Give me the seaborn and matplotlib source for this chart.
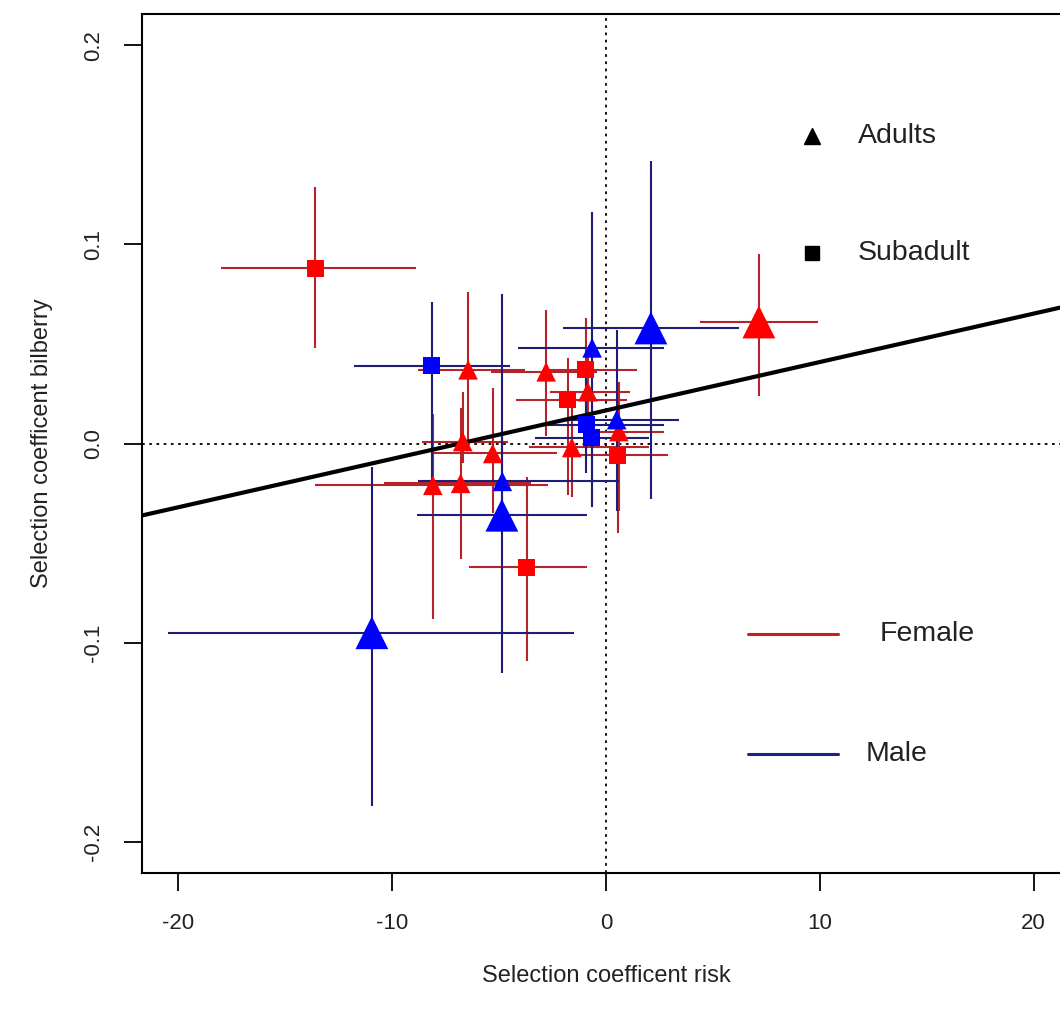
import matplotlib
matplotlib.use("Agg")
import numpy as np
import pandas as pd
import matplotlib.pyplot as plt
import seaborn as sns

# ---- data -------------------------------------------------------------
sex = ["Female"] * 15 + ["Male"] * 9
age = ["Subadult", "Adult", "Adult", "Adult", "Subadult", "Subadult", "Adult",
       "Adult", "Adult", "Subadult", "Adult", "Adult", "Adult", "Adult", "Subadult",
       "Adult", "Adult", "Adult", "Adult", "Adult", "Subadult", "Subadult",
       "Adult", "Subadult"]
large = [0, 1, 0, 0, 0, 0, 0, 0, 0, 0, 0, 0, 0, 0, 0,
         1, 1, 0, 1, 0, 0, 0, 0, 0]

risk = [-13.6, 7.15, -6.45, -2.8, -0.95, -1.8, -0.85, -1.6, 0.6, 0.55,
        -6.7, -5.3, -8.1, -6.8, -3.7,
        -10.95, -4.87, -4.85, 2.1, -0.65, -0.93, -0.67, 0.5, -8.15]
bilberry = [0.088, 0.061, 0.037, 0.036, 0.037, 0.022, 0.026, -0.002, 0.006, -0.006,
            0.001, -0.005, -0.021, -0.020, -0.062,
            -0.095, -0.036, -0.019, 0.058, 0.048, 0.0095, 0.003, 0.012, 0.039]

risk_lo = [-18.0, 4.4, -8.8, -5.4, -2.9, -4.2, -2.6, -3.6, -0.4, -1.7,
           -8.6, -8.2, -13.6, -10.4, -6.4,
           -20.5, -8.85, -8.8, -2.0, -4.1, -3.2, -3.3, -2.2, -11.8]
risk_hi = [-8.9, 9.9, -3.8, -0.4, 1.45, 1.0, 1.1, 2.0, 2.7, 2.9,
           -4.6, -2.3, -2.7, -3.5, -0.9,
           -1.5, -0.9, 0.6, 6.2, 2.7, 2.7, 2.0, 3.4, -4.5]
bil_lo = [0.048, 0.024, 0.0, 0.004, 0.0, -0.026, -0.002, -0.027, -0.034, -0.045,
          -0.010, -0.035, -0.088, -0.058, -0.109,
          -0.182, -0.115, -0.040, -0.028, -0.032, -0.015, -0.032, -0.034, -0.020]
bil_hi = [0.129, 0.095, 0.076, 0.067, 0.063, 0.043, 0.046, 0.020, 0.031, 0.010,
          0.026, 0.028, 0.015, 0.018, -0.017,
          -0.012, 0.075, 0.005, 0.142, 0.116, 0.035, 0.030, 0.057, 0.071]

# fitted regression of bilberry on risk
intercept = 0.0166
slope = 0.00243

df = pd.DataFrame({"sex": sex, "age": age, "large": large, "risk": risk,
                   "bilberry": bilberry, "risk_lo": risk_lo, "risk_hi": risk_hi,
                   "bil_lo": bil_lo, "bil_hi": bil_hi})

# ---- style ------------------------------------------------------------
sns.set_theme(style="white")
plt.rcParams["font.family"] = ["Liberation Sans", "DejaVu Sans"]

point_col = {"Female": "#FF0000", "Male": "#0000FF"}
bar_col = {"Female": "#B5242A", "Male": "#1E1E78"}

W, H = 1060, 1014
fig = plt.figure(figsize=(W / 100, H / 100), dpi=100)
ax_l, ax_r, ax_t, ax_b = 142, 1070, 14, 873
ax = fig.add_axes([ax_l / W, 1 - ax_b / H, (ax_r - ax_l) / W, (ax_b - ax_t) / H])

# error bars
for s, sub in df.groupby("sex"):
    ax.errorbar(sub["risk"], sub["bilberry"],
                xerr=[sub["risk"] - sub["risk_lo"], sub["risk_hi"] - sub["risk"]],
                yerr=[sub["bilberry"] - sub["bil_lo"], sub["bil_hi"] - sub["bilberry"]],
                fmt="none", ecolor=bar_col[s], elinewidth=1.5, capsize=0, zorder=2)

# reference lines and regression line
ax.axhline(0, color="black", lw=1.3, ls=(0, (1.5, 2.5)), zorder=1)
ax.axvline(0, color="black", lw=1.3, ls=(0, (1.5, 2.5)), zorder=1)
ax.axline((0, intercept), slope=slope, color="black", lw=3, zorder=3)

# points
adults = df[df["age"] == "Adult"]
subad = df[df["age"] == "Subadult"]
sns.scatterplot(data=adults, x="risk", y="bilberry", hue="sex", palette=point_col,
                size="large", sizes={0: 200, 1: 560}, marker="^", linewidth=0,
                legend=False, ax=ax, zorder=4)
sns.scatterplot(data=subad, x="risk", y="bilberry", hue="sex", palette=point_col,
                marker="s", s=150, linewidth=0, legend=False, ax=ax, zorder=4)

# axes
ax.set_xlim(-21.7, 21.7)
ax.set_ylim(-0.2156, 0.2156)
ax.set_xticks([-20, -10, 0, 10, 20])
ax.set_xticklabels(["-20", "-10", "0", "10", "20"])
ax.set_yticks([-0.2, -0.1, 0.0, 0.1, 0.2])
ax.set_yticklabels(["-0.2", "-0.1", "0.0", "0.1", "0.2"], rotation=90, va="center")
ax.tick_params(axis="both", direction="out", length=13, width=1.3, color="black",
               labelsize=16, labelcolor="#222222", bottom=True, left=True)
ax.tick_params(axis="x", pad=16)
ax.tick_params(axis="y", pad=14)
for sp in ax.spines.values():
    sp.set_color("black")
    sp.set_linewidth(1.5)
ax.set_xlabel("Selection coefficent risk", fontsize=17, color="#222222", labelpad=22)
ax.set_ylabel("Selection coefficent bilberry", fontsize=17, color="#222222", labelpad=22)

# legends
def fx(px):
    return (px - ax_l) / (ax_r - ax_l)

def fy(py):
    return (ax_b - py) / (ax_b - ax_t)

ax.plot([fx(812)], [fy(136)], marker="^", ms=11, color="black", lw=0,
        transform=ax.transAxes, clip_on=False)
ax.plot([fx(812)], [fy(253)], marker="s", ms=9.5, color="black", lw=0,
        transform=ax.transAxes, clip_on=False)
ax.text(fx(858), fy(136), "Adults", fontsize=20.5, color="#222222",
        va="center", ha="left", transform=ax.transAxes)
ax.text(fx(858), fy(253), "Subadult", fontsize=20.5, color="#222222",
        va="center", ha="left", transform=ax.transAxes)
ax.plot([fx(748), fx(838)], [fy(634), fy(634)], color="#C81E1E", lw=2.2,
        transform=ax.transAxes)
ax.plot([fx(748), fx(838)], [fy(754), fy(754)], color="#1E1E8C", lw=2.2,
        transform=ax.transAxes)
ax.text(fx(880), fy(634), "Female", fontsize=20.5, color="#222222",
        va="center", ha="left", transform=ax.transAxes)
ax.text(fx(866), fy(754), "Male", fontsize=20.5, color="#222222",
        va="center", ha="left", transform=ax.transAxes)

fig.savefig("out.png", dpi=100, facecolor="white")
